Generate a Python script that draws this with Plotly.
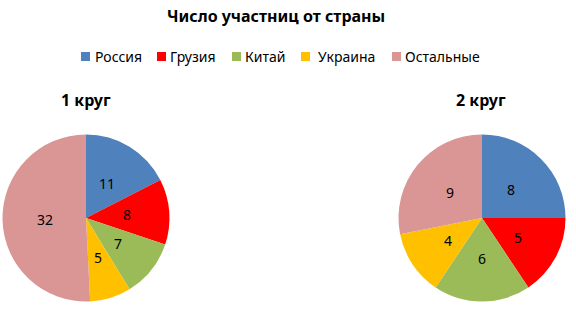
import numpy as np
import plotly.graph_objects as go

countries = ["Россия", "Грузия", "Китай", "Украина", "Остальные"]
round1 = [11, 8, 7, 5, 32]
round2 = [8, 5, 6, 4, 9]
colors = ["#4F81BD", "#FF0000", "#9BBB59", "#FFC000", "#D99694"]
title = "Число участниц от страны"
sub1 = "1 круг"
sub2 = "2 круг"

W, H = 576, 314
FONT = "Noto Sans"
R = 83.5
centers = [(86, 218), (482, 218)]
legend_sq_x = [81, 157, 232, 301, 392]
legend_txt_x = [93, 168, 243, 316, 403]
legend_y = 56.5

def dom(cx, cy, r):
    return dict(x=[(cx - r) / W, (cx + r) / W], y=[1 - (cy + r) / H, 1 - (cy - r) / H])

fig = go.Figure()
annotations = []
shapes = []
for vals, (cx, cy) in zip([round1, round2], centers):
    fig.add_trace(go.Pie(
        labels=countries, values=vals, sort=False, direction="clockwise", rotation=0,
        marker=dict(colors=colors, line=dict(width=0)),
        textinfo="none", domain=dom(cx, cy, R), showlegend=False,
        hoverinfo="label+value",
    ))
    v = np.array(vals, dtype=float)
    cum = np.cumsum(v) - v / 2
    ang = cum / v.sum() * 2 * np.pi
    for val, a in zip(vals, ang):
        px = cx + 0.49 * R * np.sin(a)
        py = cy - 0.49 * R * np.cos(a)
        annotations.append(dict(text=str(val), x=px / W, y=1 - py / H, xref="paper", yref="paper",
                                showarrow=False, font=dict(size=14, family=FONT, color="black"),
                                xanchor="center", yanchor="middle"))

for name, col, sx, tx in zip(countries, colors, legend_sq_x, legend_txt_x):
    shapes.append(dict(type="rect", xref="paper", yref="paper", x0=sx / W, x1=(sx + 9) / W,
                       y0=1 - (legend_y + 4.5) / H, y1=1 - (legend_y - 4.5) / H,
                       fillcolor=col, line=dict(width=0)))
    annotations.append(dict(text=name, x=tx / W, y=1 - legend_y / H, xref="paper", yref="paper",
                            showarrow=False, font=dict(size=14, family=FONT, color="black"),
                            xanchor="left", yanchor="middle"))

annotations += [
    dict(text="<b>" + title + "</b>", x=276 / W, y=1 - 16 / H, xref="paper", yref="paper",
         showarrow=False, font=dict(size=16, family=FONT), xanchor="center", yanchor="middle"),
    dict(text="<b>" + sub1 + "</b>", x=86 / W, y=1 - 100 / H, xref="paper", yref="paper",
         showarrow=False, font=dict(size=16, family=FONT), xanchor="center", yanchor="middle"),
    dict(text="<b>" + sub2 + "</b>", x=481 / W, y=1 - 100 / H, xref="paper", yref="paper",
         showarrow=False, font=dict(size=16, family=FONT), xanchor="center", yanchor="middle"),
]

fig.update_layout(
    width=W, height=H, margin=dict(l=0, r=0, t=0, b=0),
    paper_bgcolor="white", plot_bgcolor="white",
    font=dict(family=FONT, color="black"),
    showlegend=False,
    annotations=annotations, shapes=shapes,
)
fig.write_html("out.html")
